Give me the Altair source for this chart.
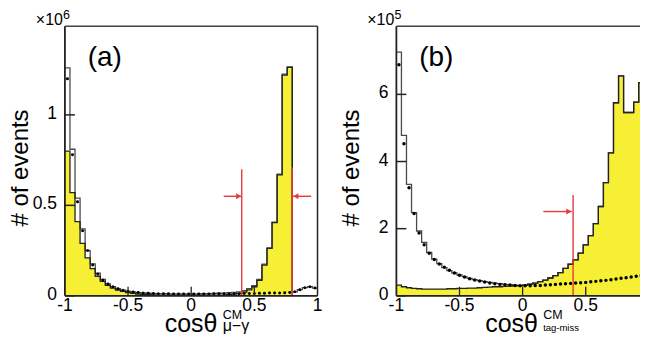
import altair as alt
import pandas as pd

# ---------------- data ----------------
BIN_LO = [round(-1 + 0.04 * i, 2) for i in range(50)]   # 50 bins of width 0.04 on [-1, 1]

A_TOTAL = [1.26, 0.81, 0.54, 0.37, 0.25, 0.177, 0.125, 0.09, 0.066, 0.05,
           0.039, 0.031, 0.025, 0.021, 0.018, 0.016, 0.014, 0.013, 0.012, 0.012,
           0.011, 0.011, 0.011, 0.011, 0.011, 0.011, 0.011, 0.012, 0.012, 0.013,
           0.014, 0.015, 0.017, 0.019, 0.022, 0.028, 0.04, 0.056, 0.09, 0.175,
           0.265, 0.407, 0.672, 1.225, 1.265, 0.022, 0.034, 0.045, 0.05, 0.043]
A_SIGNAL = [0.80, 0.57, 0.41, 0.29, 0.21, 0.15, 0.108, 0.08, 0.058, 0.043,
            0.032, 0.024, 0.018, 0.013, 0.010, 0.008, 0.006, 0.005, 0.004, 0.003,
            0.003, 0.003, 0.003, 0.003, 0.003, 0.003, 0.003, 0.003, 0.003, 0.003,
            0.003, 0.004, 0.006, 0.009, 0.013, 0.020, 0.033, 0.050, 0.085, 0.170,
            0.262, 0.404, 0.668, 1.22, 1.263, 0, 0, 0, 0, 0]
A_DATA = [1.20, 0.78, 0.52, 0.36, 0.25, 0.17, 0.12, 0.088, 0.065, 0.05,
          0.039, 0.031, 0.025, 0.021, 0.018, 0.016, 0.014, 0.013, 0.012, 0.011,
          0.011, 0.010, 0.010, 0.010, 0.010, 0.010, 0.010, 0.010, 0.010, 0.011,
          0.011, 0.011, 0.012, 0.012, 0.012, 0.013, 0.013, 0.013, 0.014, 0.014,
          0.015, 0.015, 0.016, 0.017, 0.018, 0.022, 0.033, 0.044, 0.05, 0.043]

B_TOTAL = [7.26, 4.78, 3.32, 2.48, 1.93, 1.59, 1.29, 1.09, 0.96, 0.84,
           0.75, 0.68, 0.62, 0.57, 0.52, 0.48, 0.45, 0.42, 0.40, 0.38,
           0.36, 0.34, 0.33, 0.32, 0.31, 0.32, 0.35, 0.38, 0.42, 0.47,
           0.53, 0.60, 0.69, 0.82, 0.94, 1.07, 1.27, 1.52, 1.79, 2.15,
           2.66, 3.37, 4.26, 5.75, 6.55, 5.46, 5.46, 5.77, 6.35, 7.27]
B_SIGNAL = [0.32, 0.27, 0.24, 0.22, 0.21, 0.20, 0.20, 0.20, 0.20, 0.20,
            0.21, 0.21, 0.22, 0.22, 0.23, 0.23, 0.24, 0.25, 0.26, 0.27,
            0.27, 0.28, 0.29, 0.30, 0.30, 0.32, 0.35, 0.38, 0.42, 0.47,
            0.53, 0.60, 0.69, 0.82, 0.94, 1.07, 1.27, 1.52, 1.79, 2.15,
            2.66, 3.37, 4.26, 5.75, 6.55, 5.46, 5.46, 5.77, 6.35, 7.27]
B_DATA = [6.88, 4.53, 3.22, 2.45, 1.87, 1.52, 1.27, 1.08, 0.95, 0.85,
          0.76, 0.68, 0.61, 0.56, 0.51, 0.47, 0.44, 0.41, 0.38, 0.36,
          0.34, 0.33, 0.32, 0.31, 0.30, 0.30, 0.30, 0.31, 0.31, 0.32,
          0.33, 0.34, 0.35, 0.36, 0.37, 0.38, 0.39, 0.40, 0.42, 0.43,
          0.45, 0.46, 0.48, 0.50, 0.52, 0.54, 0.56, 0.58, 0.60, 0.62]

X_TICKS = [-1, -0.5, 0, 0.5, 1]
X_LABELS = ["-1", "-0.5", "0", "0.5", "1"]
A_YTICKS = [0, 0.5, 1]
A_YLABELS = ["0", "0.5", "1"]
B_YTICKS = [0, 2, 4, 6]
B_YLABELS = ["0", "2", "4", "6"]

A_YMAX = 1.49
B_YMAX = 8.03
A_XMAX = 1.0
B_XMAX = 0.93      # panel (b) is cut at the picture's right edge

# cut lines (x, top) and arrows (from, to, y, direction)
A_CUTS = [(0.4, 0.70), (0.8, 0.71)]
A_ARROWS = [(0.257, 0.40, 0.55, "r"), (0.95, 0.805, 0.55, "l")]
B_CUTS = [(0.4, 3.0)]
B_ARROWS = [(0.164, 0.39, 2.51, "r")]

YELLOW = "#f6ef34"
RED = "#e8383d"
FONT = "Liberation Sans"
H = 270


def step_df(vals):
    return pd.DataFrame({"x": BIN_LO + [1.0], "y": list(vals) + [vals[-1]]})


def panel(total, signal, data, ymax, xmax, width, yticks, ylabels, xlabels, cuts, arrows,
          exp_sup, tag, sub_text, sub_size, right_frame, x0, dot_size, anchor=False):
    xs = alt.Scale(domain=[-1, xmax], nice=False, zero=False)
    ys = alt.Scale(domain=[0, ymax], nice=False, zero=False)
    X = alt.X("x:Q", scale=xs, axis=None)
    Y = alt.Y("y:Q", scale=ys, axis=None)
    one = pd.DataFrame({"k": [0]})

    layers = []
    layers.append(alt.Chart(step_df(signal)).mark_area(
        interpolate="step-after", color=YELLOW, opacity=1, clip=True).encode(X, Y))
    layers.append(alt.Chart(step_df(total)).mark_line(
        interpolate="step-after", color="#4a4a4a", strokeWidth=1.3, clip=True).encode(X, Y))
    layers.append(alt.Chart(step_df(signal)).mark_line(
        interpolate="step-after", color="#222222", strokeWidth=1.3, clip=True).encode(X, Y))
    dots = pd.DataFrame({"x": [b + 0.02 for b in BIN_LO], "y": data})
    layers.append(alt.Chart(dots).mark_circle(color="black", size=dot_size, opacity=1,
                                              clip=True).encode(X, Y))

    cdf = pd.DataFrame({"x": [c[0] for c in cuts], "y": [0] * len(cuts), "y2": [c[1] for c in cuts]})
    layers.append(alt.Chart(cdf).mark_rule(color=RED, strokeWidth=1.4).encode(X, Y, y2="y2:Q"))
    adf = pd.DataFrame({"x": [a[0] for a in arrows], "x2": [a[1] for a in arrows],
                        "y": [a[2] for a in arrows], "d": [a[3] for a in arrows]})
    layers.append(alt.Chart(adf).mark_rule(color=RED, strokeWidth=1.4).encode(
        alt.X("x:Q", scale=xs, axis=None), x2="x2:Q", y=Y))
    heads = adf.assign(x=adf["x2"])
    layers.append(alt.Chart(heads).transform_filter("datum.d == 'r'").mark_point(
        shape="triangle-right", filled=True, color=RED, size=35, opacity=1, xOffset=-3).encode(X, Y))
    layers.append(alt.Chart(heads).transform_filter("datum.d == 'l'").mark_point(
        shape="triangle-left", filled=True, color=RED, size=35, opacity=1, xOffset=3).encode(X, Y))

    # frame
    layers.append(alt.Chart(one).mark_rule(color="#222222", strokeWidth=1.8).encode(
        x=alt.value(0), y=alt.value(0), y2=alt.value(H)))
    layers.append(alt.Chart(one).mark_rule(color="#222222", strokeWidth=1.8).encode(
        x=alt.value(0), x2=alt.value(width), y=alt.value(H)))
    layers.append(alt.Chart(one).mark_rule(color="#444444", strokeWidth=1.5).encode(
        x=alt.value(0), x2=alt.value(width), y=alt.value(0)))
    if right_frame:
        layers.append(alt.Chart(one).mark_rule(color="#222222", strokeWidth=1.5).encode(
            x=alt.value(width), y=alt.value(0), y2=alt.value(H)))

    # inner ticks
    ytk = pd.DataFrame({"y": yticks, "t": ylabels})
    layers.append(alt.Chart(ytk).mark_rule(color="#222222", strokeWidth=1.5).encode(
        x=alt.value(0), x2=alt.value(10), y=Y))
    xtk = pd.DataFrame({"x": [-0.5, 0, 0.5]})
    layers.append(alt.Chart(xtk).mark_rule(color="#222222", strokeWidth=1.3).encode(
        x=X, y=alt.value(H), y2=alt.value(H - 9)))

    # tick labels
    layers.append(alt.Chart(ytk).mark_text(font=FONT, fontSize=17.5, align="right",
                                           baseline="middle", dy=-1).encode(
        x=alt.value(-8), y=Y, text="t:N"))
    xl = pd.DataFrame({"x": X_TICKS[:len(xlabels)], "t": xlabels})
    layers.append(alt.Chart(xl).mark_text(font=FONT, fontSize=17.5, align="center",
                                          baseline="middle").encode(
        x=X, y=alt.value(H + 10), text="t:N"))

    # exponent
    layers.append(alt.Chart(one).mark_text(font=FONT, fontSize=16, align="right",
                                           baseline="alphabetic", text="×10").encode(
        x=alt.value(-2), y=alt.value(-1)))
    layers.append(alt.Chart(one).mark_text(font=FONT, fontSize=12.5, align="left",
                                           baseline="alphabetic", text=exp_sup).encode(
        x=alt.value(-2), y=alt.value(-7)))
    # panel tag
    layers.append(alt.Chart(one).mark_text(font=FONT, fontSize=28, align="center",
                                           baseline="middle", text=tag).encode(
        x=alt.value(40), y=alt.value(32)))
    # y title
    layers.append(alt.Chart(one).mark_text(font=FONT, fontSize=24, align="center",
                                           baseline="middle", angle=270, text="# of events").encode(
        x=alt.value(-44), y=alt.value(142)))
    # x title
    layers.append(alt.Chart(one).mark_text(font=FONT, fontSize=25, align="left",
                                           baseline="alphabetic", text="cosθ").encode(
        x=alt.value(x0), y=alt.value(306)))
    sx = x0 + 58
    layers.append(alt.Chart(one).mark_text(font=FONT, fontSize=12.5, align="left",
                                           baseline="alphabetic", text="CM").encode(
        x=alt.value(sx), y=alt.value(293)))
    layers.append(alt.Chart(one).mark_text(font=FONT, fontSize=sub_size, align="left",
                                           baseline="alphabetic", text=sub_text).encode(
        x=alt.value(sx), y=alt.value(305)))
    if anchor:
        layers.append(alt.Chart(one).mark_point(shape="square", size=1, filled=True,
                                                color="white", opacity=0.01).encode(
            x=alt.value(-56.5), y=alt.value(-17.5)))

    return alt.layer(*layers).properties(width=width, height=H)


pa = panel(A_TOTAL, A_SIGNAL, A_DATA, A_YMAX, A_XMAX, 253, A_YTICKS, A_YLABELS, X_LABELS,
           A_CUTS, A_ARROWS, "6", "(a)", "μ−γ", 16, True, 100, 9, anchor=True)
pb = panel(B_TOTAL, B_SIGNAL, B_DATA, B_YMAX, B_XMAX, 244, B_YTICKS, B_YLABELS, X_LABELS[:4],
           B_CUTS, B_ARROWS, "5", "(b)", "tag-miss", 9.5, False, 89, 12)

chart = alt.hconcat(pa, pb, spacing=79, bounds="flush").properties(
    padding=0
).configure_view(stroke=None)

chart.save("out.html", embed_options={"renderer": "svg", "actions": False})
